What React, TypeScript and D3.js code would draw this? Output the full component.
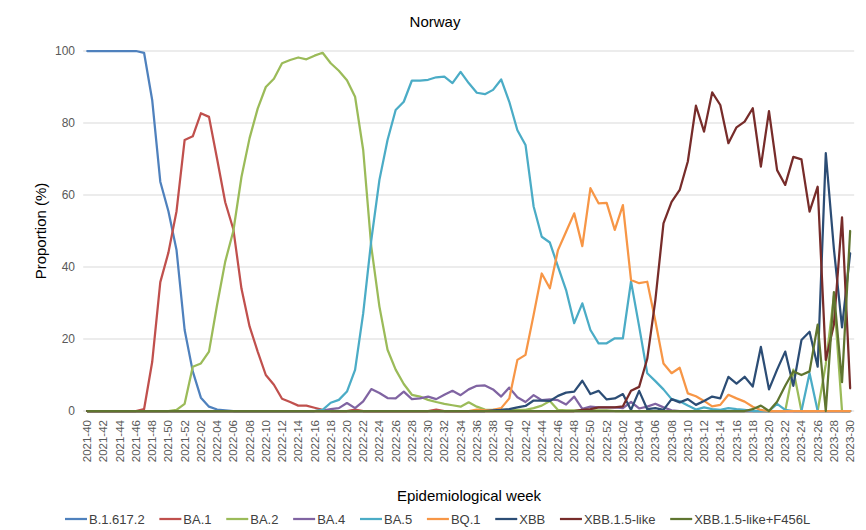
import { useEffect, useRef } from 'react';
import * as d3 from 'd3';

// epidemiological weeks 2021-40 .. 2023-30
const weeks: string[] = [];
for (let w = 40; w <= 52; w++) weeks.push(`2021-${w}`);
for (let w = 1; w <= 52; w++) weeks.push(`2022-${String(w).padStart(2, '0')}`);
for (let w = 1; w <= 30; w++) weeks.push(`2023-${String(w).padStart(2, '0')}`);

const yTicks = [0, 20, 40, 60, 80, 100];

const b16172 = [
  100, 100, 100, 100, 100, 100, 100, 99.5, 86.4, 63.7,
  55.5, 44.7, 22.5, 11, 3.7, 1.2, 0.4, 0.2, 0, 0,
  0, 0, 0, 0, 0, 0, 0, 0, 0, 0,
  0, 0, 0, 0, 0, 0, 0, 0, 0, 0,
  0, 0, 0, 0, 0, 0, 0, 0, 0, 0,
  0, 0, 0, 0, 0, 0, 0, 0, 0, 0,
  0, 0, 0, 0, 0, 0, 0, 0, 0, 0,
  0, 0, 0, 0, 0, 0, 0, 0, 0, 0,
  0, 0, 0, 0, 0, 0, 0, 0, 0, 0,
  0, 0, 0, 0, 0,
];
const ba1 = [
  0, 0, 0, 0, 0, 0, 0, 0.5, 13.6, 35.8,
  44, 55.5, 75.3, 76.3, 82.7, 81.7, 70, 58, 50.5, 34,
  23.5, 16.5, 10, 7.3, 3.4, 2.5, 1.5, 1.5, 0.9, 0.3,
  0, 0, 0, 0.4, 0, 0, 0, 0, 0, 0,
  0, 0, 0, 0.4, 0, 0, 0, 0, 0, 0,
  0, 0, 0, 0, 0, 0, 0, 0, 0, 0,
  0, 0, 0, 0, 0, 0, 0, 0, 0, 0,
  0, 0, 0, 0, 0, 0, 0, 0, 0, 0,
  0, 0, 0, 0, 0, 0, 0, 0, 0, 0,
  0, 0, 0, 0, 0,
];
const ba2 = [
  0, 0, 0, 0, 0, 0, 0, 0, 0, 0,
  0, 0.3, 2, 12.3, 13.2, 16.5, 29.5, 41.5, 50, 65,
  75.8, 84, 90, 92.3, 96.6, 97.5, 98.2, 97.7, 98.7, 99.5,
  96.6, 94.5, 91.9, 87.3, 72.5, 45.6, 29, 17, 11.5, 7.5,
  4.5, 4, 3.1, 2.5, 2, 1.6, 1.2, 2.4, 1.2, 0.4,
  0.3, 0.3, 0.3, 0.3, 0.3, 0.8, 1.5, 2.8, 0.3, 0.2,
  0.2, 0.2, 0.2, 0.2, 0.2, 0, 0, 0, 0, 0,
  0, 0, 0, 0, 0, 0, 0, 0, 0, 0,
  0, 0, 0, 0, 0, 0, 0, 11.5, 0, 0,
  0, 13, 32, 0, 0,
];
const ba4 = [
  0, 0, 0, 0, 0, 0, 0, 0, 0, 0,
  0, 0, 0, 0, 0, 0, 0, 0, 0, 0,
  0, 0, 0, 0, 0, 0, 0, 0, 0, 0.1,
  0.5, 0.8, 2.2, 0.8, 2.7, 6.1, 5, 3.6, 3.5, 5.4,
  3.3, 3.5, 4, 3.3, 4.5, 5.6, 4.4, 6, 7, 7.1,
  6, 4, 6.5, 3.8, 2.5, 4.4, 3, 3.2, 3, 1.8,
  4, 0.6, 1.2, 1, 1, 1, 0.8, 2.5, 0.7, 1.2,
  2, 1, 0.2, 0, 0, 0, 0, 0, 0, 0,
  0, 0, 0, 0, 0, 0, 0, 0, 0, 0,
  0, 0, 0, 0, 0,
];
const ba5 = [
  0, 0, 0, 0, 0, 0, 0, 0, 0, 0,
  0, 0, 0, 0, 0, 0, 0, 0, 0, 0,
  0, 0, 0, 0, 0, 0, 0, 0, 0, 0.3,
  2.3, 3.1, 5.4, 11.4, 27.1, 47.5, 64.2, 75.3, 83.6, 85.9,
  91.8, 91.8, 92, 92.7, 92.9, 91.1, 94.2, 91.1, 88.4, 88,
  89.2, 92.1, 85.9, 78, 73.9, 56.8, 48.4, 46.8, 40.1, 33.6,
  24.4, 29.9, 22.5, 18.8, 18.8, 20.2, 20.2, 36, 23.5, 10.5,
  8.3, 6, 3.3, 2.7, 1.5, 0.4, 1, 0.5, 0.3, 0.8,
  0.5, 0.3, 0, 0, 0, 2, 0.3, 0, 0, 10.5,
  0, 0, 0, 0, 0,
];
const bq1 = [
  0, 0, 0, 0, 0, 0, 0, 0, 0, 0,
  0, 0, 0, 0, 0, 0, 0, 0, 0, 0,
  0, 0, 0, 0, 0, 0, 0, 0, 0, 0,
  0, 0, 0, 0, 0, 0, 0, 0, 0, 0,
  0, 0, 0, 0, 0, 0, 0, 0, 0.4, 0.2,
  0.3, 0.8, 3.5, 14.2, 15.6, 26.7, 38.2, 34.1, 44.7, 49.8,
  54.9, 45.8, 61.9, 57.7, 57.8, 50.3, 57.2, 36.4, 35.5, 35.9,
  25, 13.2, 10.5, 12, 4.9, 4.1, 2.8, 1.3, 1.7, 4.5,
  3.5, 2.6, 1.2, 0.3, 0, 0, 0, 0, 0, 0,
  0, 0, 0, 0, 0,
];
const xbb = [
  0, 0, 0, 0, 0, 0, 0, 0, 0, 0,
  0, 0, 0, 0, 0, 0, 0, 0, 0, 0,
  0, 0, 0, 0, 0, 0, 0, 0, 0, 0,
  0, 0, 0, 0, 0, 0, 0, 0, 0, 0,
  0, 0, 0, 0, 0, 0, 0, 0, 0, 0,
  0.2, 0.3, 0.5, 1, 1.4, 2.9, 2.9, 2.8, 4.2, 5.1,
  5.4, 8.4, 4.7, 5.6, 3.2, 3.5, 4.7, 0.3, 5.6, 0.5,
  0.8, 0.3, 3.3, 2.4, 3.3, 1.7, 2.8, 4, 3.5, 9.5,
  7.6, 9.5, 6.8, 17.8, 6, 11.5, 16.5, 7, 19.7, 22,
  12.3, 71.6, 45, 23.2, 43.8,
];
const xbb15 = [
  0, 0, 0, 0, 0, 0, 0, 0, 0, 0,
  0, 0, 0, 0, 0, 0, 0, 0, 0, 0,
  0, 0, 0, 0, 0, 0, 0, 0, 0, 0,
  0, 0, 0, 0, 0, 0, 0, 0, 0, 0,
  0, 0, 0, 0, 0, 0, 0, 0, 0, 0,
  0, 0, 0, 0, 0, 0, 0, 0, 0, 0,
  0, 0.3, 0.5, 1, 1, 1, 1.3, 5.6, 6.7, 14.5,
  30.8, 52.1, 58.1, 61.4, 69.3, 84.8, 77.6, 88.5, 85, 74.4,
  78.8, 80.4, 84.1, 67.9, 83.3, 66.9, 62.8, 70.6, 69.9, 55.4,
  62.3, 14.2, 24, 53.8, 6.3,
];
const xbb15f = [
  0, 0, 0, 0, 0, 0, 0, 0, 0, 0,
  0, 0, 0, 0, 0, 0, 0, 0, 0, 0,
  0, 0, 0, 0, 0, 0, 0, 0, 0, 0,
  0, 0, 0, 0, 0, 0, 0, 0, 0, 0,
  0, 0, 0, 0, 0, 0, 0, 0, 0, 0,
  0, 0, 0, 0, 0, 0, 0, 0, 0, 0,
  0, 0, 0, 0, 0, 0, 0, 0, 0, 0,
  0, 0, 0, 0, 0, 0, 0, 0, 0, 0,
  0, 0, 0.5, 1.5, 0, 2.6, 7, 11, 10, 11,
  24, 0, 33, 8, 50,
];

const seriesNames = ['B.1.617.2', 'BA.1', 'BA.2', 'BA.4', 'BA.5', 'BQ.1', 'XBB', 'XBB.1.5-like', 'XBB.1.5-like+F456L'];
const seriesValues = [b16172, ba1, ba2, ba4, ba5, bq1, xbb, xbb15, xbb15f];
const seriesColors = ['#4F81BD', '#C0504D', '#9BBB59', '#8064A2', '#4BACC6', '#F79646', '#2C4D75', '#772C2A', '#5F7530'];

const FONT = "'Liberation Sans', Arial, sans-serif";

export default function App() {
  const svgRef = useRef<SVGSVGElement>(null);

  useEffect(() => {
    if (!svgRef.current) return;
    const width = 866;
    const height = 530;
    const svg = d3.select(svgRef.current);
    svg.selectAll('*').remove();
    svg.attr('width', width).attr('height', height).attr('viewBox', `0 0 ${width} ${height}`);

    svg.append('rect').attr('x', 0).attr('y', 0).attr('width', width).attr('height', height).style('fill', '#fff');

    const x = d3.scalePoint<string>().domain(weeks).range([83.2, 854.2]).padding(0.5);
    const y = d3.scaleLinear().domain([0, 100]).range([411, 51]);

    // gridlines
    svg.append('g')
      .selectAll('line')
      .data(yTicks.filter(t => t > 0))
      .enter()
      .append('line')
      .attr('x1', 83.2).attr('x2', 854.2)
      .attr('y1', d => y(d)).attr('y2', d => y(d))
      .style('stroke', '#D9D9D9')
      .style('stroke-width', '1px');

    // x axis line
    svg.append('line')
      .attr('x1', 83.2).attr('x2', 854.2)
      .attr('y1', y(0)).attr('y2', y(0))
      .style('stroke', '#D9D9D9');

    // y tick labels
    svg.append('g')
      .selectAll('text')
      .data(yTicks)
      .enter()
      .append('text')
      .attr('x', 75)
      .attr('y', d => y(d))
      .attr('dy', '0.35em')
      .attr('text-anchor', 'end')
      .text(d => String(d))
      .style('font-family', FONT)
      .style('font-size', '12px')
      .style('fill', '#595959');

    // x tick labels (every other week)
    svg.append('g')
      .selectAll('text')
      .data(weeks.filter((_, i) => i % 2 === 0))
      .enter()
      .append('text')
      .attr('transform', d => `translate(${(x(d) as number) + 4},${420}) rotate(-90)`)
      .attr('text-anchor', 'end')
      .text(d => d)
      .style('font-family', FONT)
      .style('font-size', '11.5px')
      .style('fill', '#595959');

    // lines
    const line = d3.line<number>()
      .x((_, i) => x(weeks[i]) as number)
      .y(d => y(d));

    svg.append('g')
      .selectAll('path')
      .data(seriesValues)
      .enter()
      .append('path')
      .attr('d', d => line(d))
      .style('fill', 'none')
      .style('stroke', (_, i) => seriesColors[i])
      .style('stroke-width', '2.25px')
      .style('stroke-linejoin', 'round')
      .style('stroke-linecap', 'round');

    // titles
    svg.append('text')
      .attr('x', 435).attr('y', 27)
      .attr('text-anchor', 'middle')
      .text('Norway')
      .style('font-family', FONT)
      .style('font-size', '15px')
      .style('fill', '#000');

    svg.append('text')
      .attr('transform', `translate(46,${y(50)}) rotate(-90)`)
      .attr('text-anchor', 'middle')
      .text('Proportion (%)')
      .style('font-family', FONT)
      .style('font-size', '15px')
      .style('fill', '#000');

    svg.append('text')
      .attr('x', 469).attr('y', 501)
      .attr('text-anchor', 'middle')
      .text('Epidemiological week')
      .style('font-family', FONT)
      .style('font-size', '15px')
      .style('fill', '#000');

    // legend
    const legend = svg.append('g').attr('transform', 'translate(65,519)');
    let cursor = 0;
    seriesNames.forEach((name, i) => {
      const g = legend.append('g').attr('transform', `translate(${cursor},0)`);
      g.append('line')
        .attr('x1', 0).attr('x2', 22)
        .attr('y1', 0).attr('y2', 0)
        .style('stroke', seriesColors[i])
        .style('stroke-width', '2.25px');
      const t = g.append('text')
        .attr('x', 24).attr('y', 0)
        .attr('dy', '0.35em')
        .text(name)
        .style('font-family', FONT)
        .style('font-size', '13px')
        .style('fill', '#404040');
      const w = (t.node() as SVGTextElement).getComputedTextLength();
      cursor += 24 + w + 14.7;
    });
  }, []);

  return (
    <div style={{ position: 'absolute', left: 0, top: 0 }}>
      <svg ref={svgRef} />
    </div>
  );
}
